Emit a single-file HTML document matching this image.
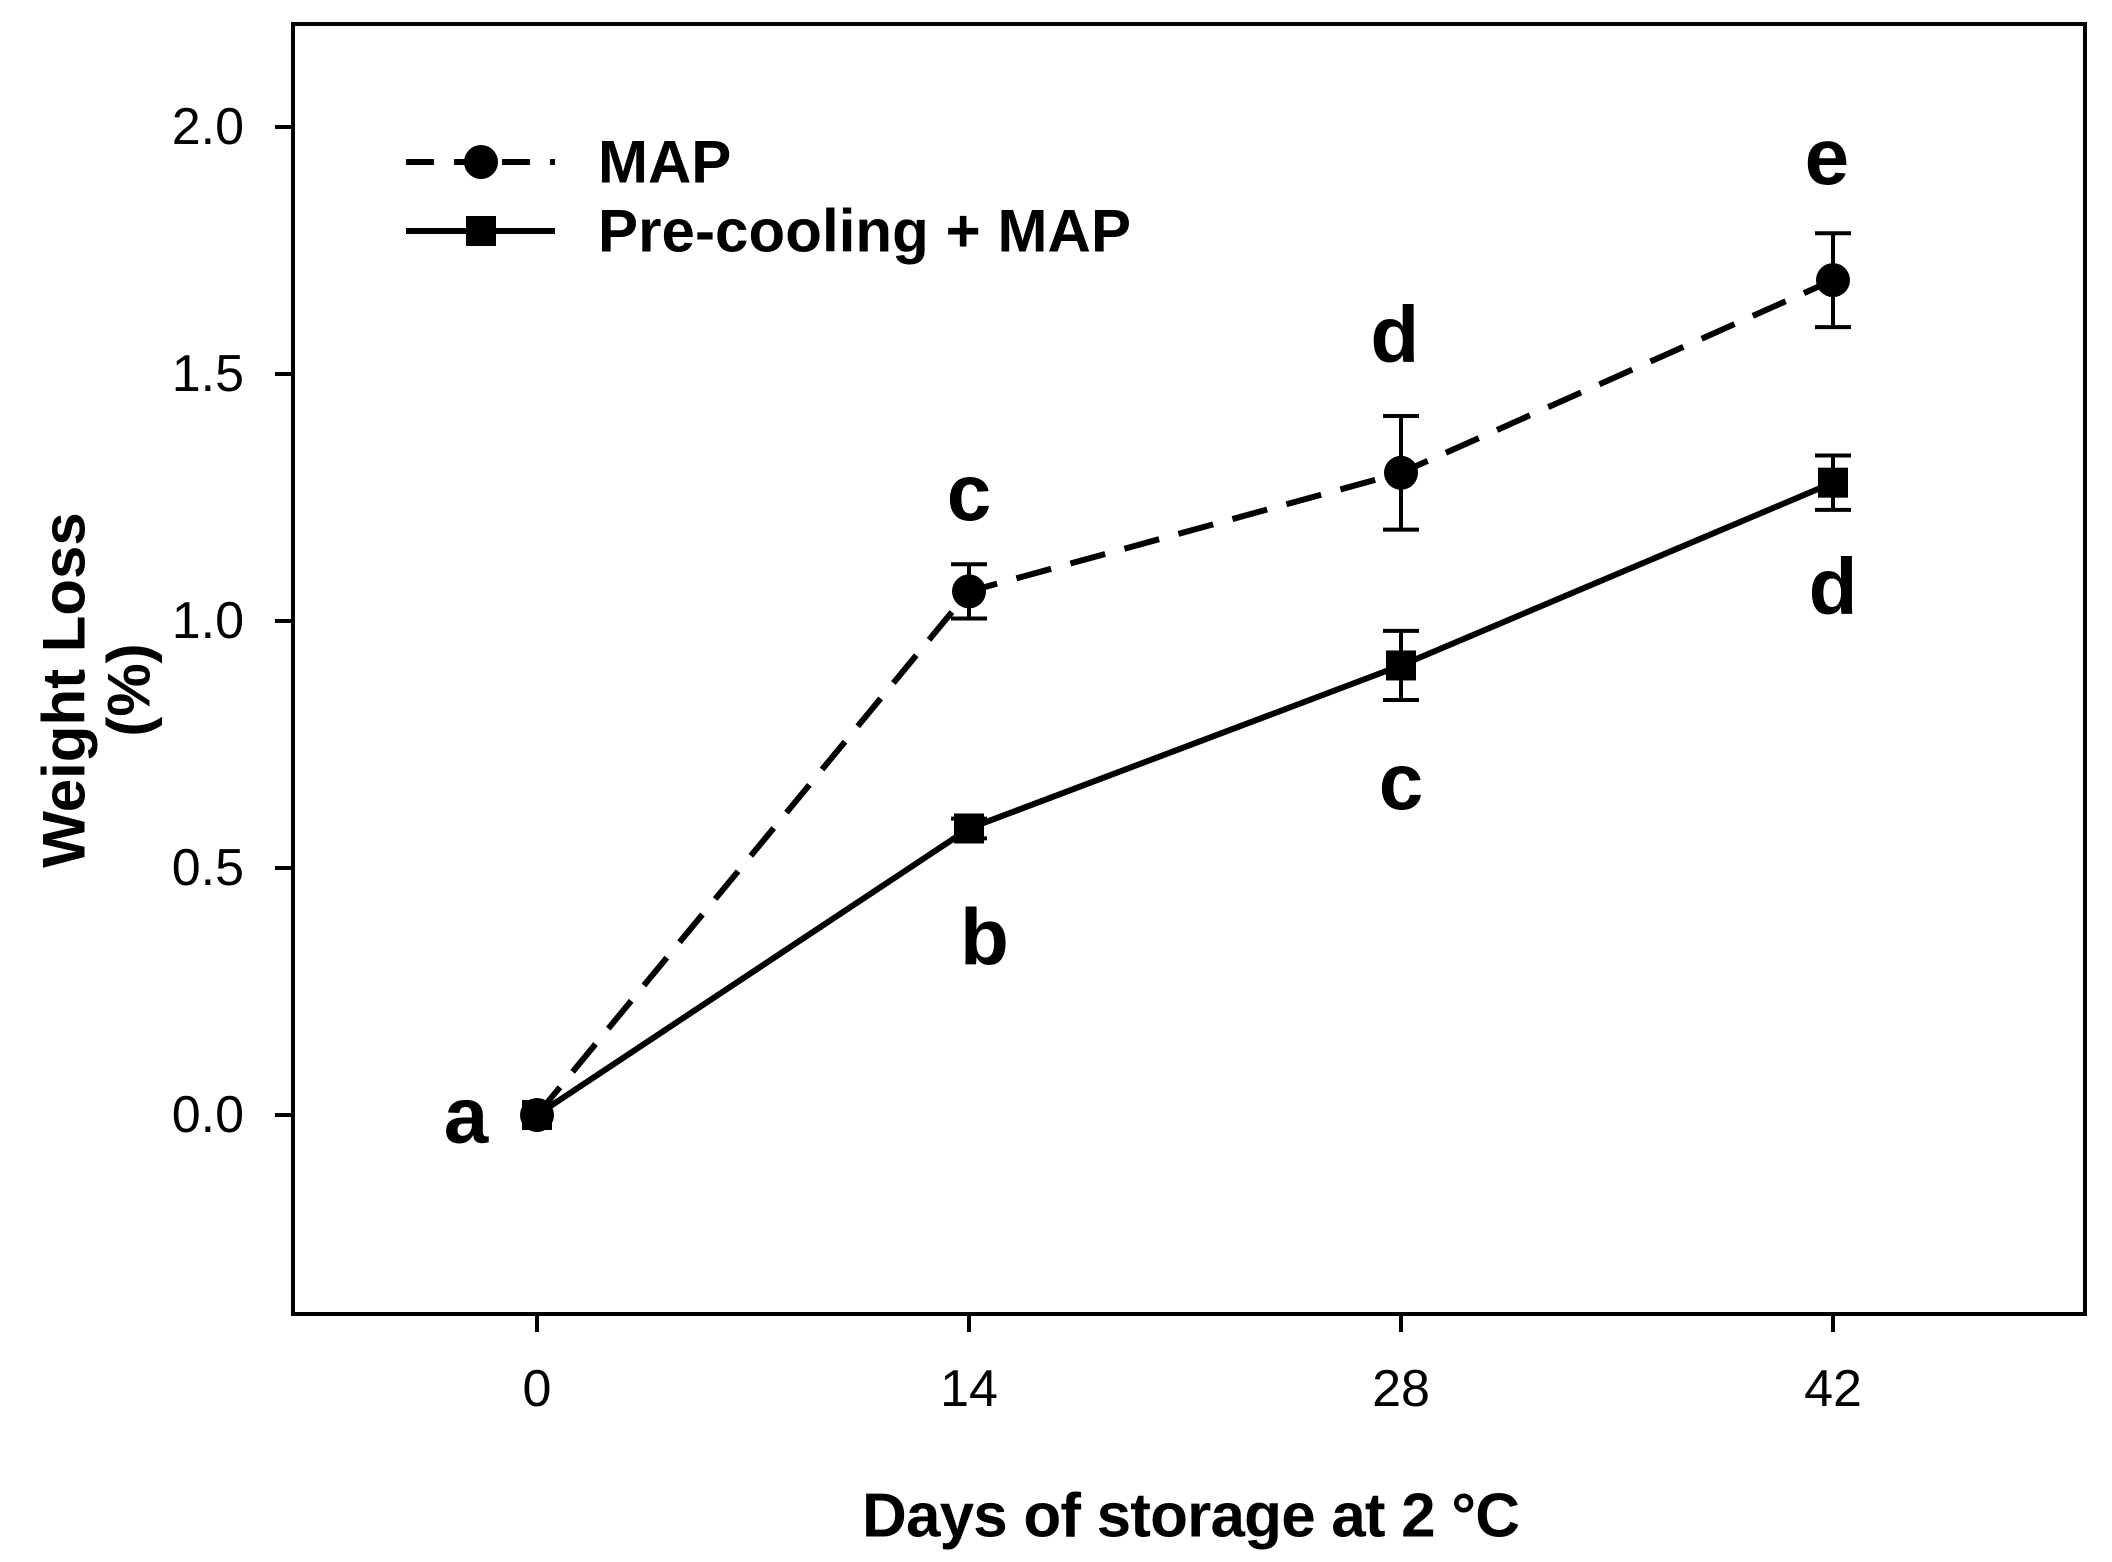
<!DOCTYPE html>
<html><head><meta charset="utf-8"><style>
html,body{margin:0;padding:0;background:#fff}
svg{display:block;font-family:"Liberation Sans",Arial,sans-serif}
</style></head><body>
<svg id="chart" width="2112" height="1562" viewBox="0 0 2112 1562">
<g id="plot"></g>
</svg>
<script>
const days = [0, 14, 28, 42];
const mapValues = [0, 1.06, 1.30, 1.69];
const mapErrors = [0, 0.055, 0.115, 0.095];
const preValues = [0, 0.58, 0.91, 1.28];
const preErrors = [0, 0.02, 0.07, 0.055];
const yTicks = [0, 0.5, 1.0, 1.5, 2.0];
const yTickLabels = ["0.0", "0.5", "1.0", "1.5", "2.0"];
const xTicks = [0, 14, 28, 42];
const sigLetters = ["a", "c", "b", "d", "c", "e", "d"];
const sigDays = [-2.3, 14, 14.5, 27.8, 28, 41.8, 42];
const sigY = [0, 1.26, 0.36, 1.58, 0.675, 1.94, 1.07];

const NS = "http://www.w3.org/2000/svg";
const g = document.getElementById('plot');
const L = 293, R = 2085, T = 24, B = 1314;
function sx(d){ return 537 + d * (432 / 14); }
function sy(v){ return 1115 - v * (247 / 0.5); }
function mk(tag, attrs, parent){
  const e = document.createElementNS(NS, tag);
  for (const k in attrs) e.setAttribute(k, attrs[k]);
  (parent || g).appendChild(e);
  return e;
}
const frame = mk('rect', {x:L, y:T, width:R-L, height:B-T, fill:'none', stroke:'#000', 'stroke-width':4});


yTicks.forEach((v, i) => {
  const t = mk('line', {x1:L-18, x2:L, y1:sy(v), y2:sy(v), stroke:'#000', 'stroke-width':4});
  
  
  const tx = mk('text', {x:244, y:sy(v), 'font-size':52, 'text-anchor':'end', 'dominant-baseline':'central'});
  tx.textContent = yTickLabels[i];
  
  
});
xTicks.forEach((d) => {
  const t = mk('line', {x1:sx(d), x2:sx(d), y1:B, y2:B+18, stroke:'#000', 'stroke-width':4});
  
  
  const tx = mk('text', {x:sx(d), y:1389, 'font-size':52, 'text-anchor':'middle', 'dominant-baseline':'central'});
  tx.textContent = String(d);
  
  
});
function series(vals, errs, dashed, square, name){
  const pts = vals.map((v, i) => sx(days[i]) + ',' + sy(v)).join(' ');
  const pl = mk('polyline', {points:pts, fill:'none', stroke:'#000', 'stroke-width':6});
  if (dashed) pl.setAttribute('stroke-dasharray', '36 20');
  
  
  vals.forEach((v, i) => {
    const x = sx(days[i]);
    if (errs[i] > 0) {
      const y1 = sy(v + errs[i]), y2 = sy(v - errs[i]);
      const eb = mk('path', {d:`M${x},${y1}V${y2}M${x-18},${y1}H${x+18}M${x-18},${y2}H${x+18}`, stroke:'#000', 'stroke-width':4, fill:'none'});
      
      
    }
    let m;
    if (square) m = mk('rect', {x:x-15, y:sy(v)-15, width:30, height:30, fill:'#000'});
    else m = mk('circle', {cx:x, cy:sy(v), r:17, fill:'#000'});
    
    
  });
}
series(mapValues, mapErrors, true, false, 'map');
series(preValues, preErrors, false, true, 'precooling-map');
sigLetters.forEach((s, i) => {
  const t = mk('text', {x:sx(sigDays[i]), y:sy(sigY[i]), 'font-size':80, 'font-weight':'bold', 'text-anchor':'middle', 'dominant-baseline':'central'});
  t.textContent = s;
  
  
});
const lg = mk('g', {});


mk('line', {x1:406, x2:555, y1:162, y2:162, stroke:'#000', 'stroke-width':6, 'stroke-dasharray':'28 20'}, lg);
mk('circle', {cx:481, cy:162, r:17, fill:'#000'}, lg);
const t1 = mk('text', {x:598, y:162, 'font-size':60, 'font-weight':'bold', 'dominant-baseline':'central'}, lg);
t1.textContent = 'MAP';


mk('line', {x1:406, x2:555, y1:231, y2:231, stroke:'#000', 'stroke-width':6}, lg);
mk('rect', {x:466, y:216, width:30, height:30, fill:'#000'}, lg);
const t2 = mk('text', {x:598, y:231, 'font-size':60, 'font-weight':'bold', 'dominant-baseline':'central', textLength:533}, lg);
t2.textContent = 'Pre-cooling + MAP';


const xt = mk('text', {x:1191, y:1516, 'font-size':62, 'font-weight':'bold', 'text-anchor':'middle', 'dominant-baseline':'central', textLength:658});
xt.textContent = 'Days of storage at 2 °C';


const yt = mk('text', {x:0, y:0, 'font-size':60, 'font-weight':'bold', 'text-anchor':'middle', 'dominant-baseline':'central', transform:'translate(64,690) rotate(-90)'});
yt.textContent = 'Weight Loss';


const yt2 = mk('text', {x:0, y:0, 'font-size':60, 'font-weight':'bold', 'text-anchor':'middle', 'dominant-baseline':'central', transform:'translate(129,690) rotate(-90)'});
yt2.textContent = '(%)';


</script>
</body></html>
